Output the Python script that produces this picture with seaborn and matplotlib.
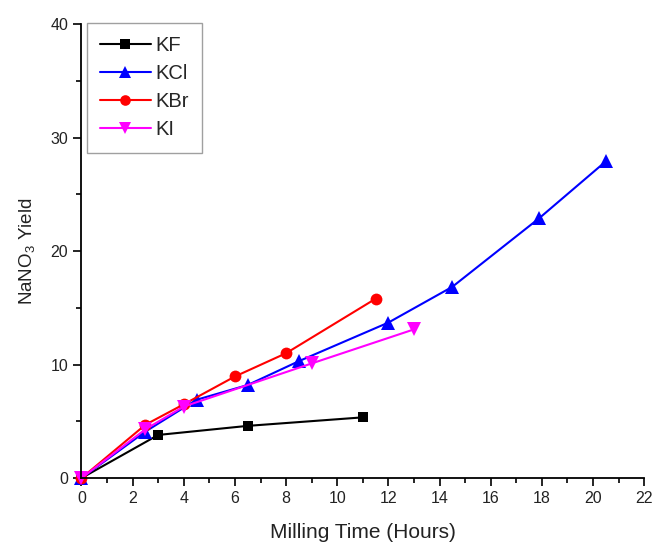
import pandas as pd
import matplotlib
matplotlib.use("Agg")
import matplotlib.pyplot as plt
from matplotlib.ticker import MultipleLocator
import seaborn as sns

# -----------------------------
# Data
# -----------------------------
kf_time = [0, 3, 6.5, 11]
kf_yield = [0, 3.8, 4.6, 5.35]

kcl_time = [0, 2.5, 4.5, 6.5, 8.5, 12, 14.5, 17.9, 20.5]
kcl_yield = [0, 4.1, 6.9, 8.2, 10.3, 13.7, 16.85, 22.9, 27.9]

kbr_time = [0, 2.5, 4, 6, 8, 11.5]
kbr_yield = [0, 4.7, 6.5, 8.95, 11.0, 15.8]

ki_time = [0, 2.5, 4, 9, 13]
ki_yield = [0, 4.3, 6.3, 10.1, 13.1]

salts = ["KF", "KCl", "KBr", "KI"]
colors = {"KF": "#000000", "KCl": "#0000ff", "KBr": "#ff0000", "KI": "#ff00ff"}
markers = {"KF": "s", "KCl": "^", "KBr": "o", "KI": "v"}
marker_sizes = {"KF": 7.5, "KCl": 10, "KBr": 8.5, "KI": 10}


def build_frame():
    parts = []
    for name, t, y in [("KF", kf_time, kf_yield), ("KCl", kcl_time, kcl_yield),
                       ("KBr", kbr_time, kbr_yield), ("KI", ki_time, ki_yield)]:
        parts.append(pd.DataFrame({"time": t, "yield": y, "salt": name}))
    return pd.concat(parts, ignore_index=True)


def main():
    df = build_frame()

    sns.set_style("ticks")
    plt.rcParams["font.family"] = ["Liberation Sans", "DejaVu Sans"]
    plt.rcParams["mathtext.default"] = "regular"

    fig = plt.figure(figsize=(6.55, 5.47), dpi=100)
    ax = fig.add_axes([0.1244, 0.126, 0.859, 0.830])

    # one call per salt so each marker can have its own size
    for salt in salts:
        sub = df[df["salt"] == salt]
        sns.lineplot(data=sub, x="time", y="yield", color=colors[salt],
                     marker=markers[salt], markersize=marker_sizes[salt],
                     markeredgewidth=0, linewidth=1.5, sort=False,
                     estimator=None, label=salt, ax=ax, clip_on=False)

    ax.set_xlim(0, 22)
    ax.set_ylim(0, 40)
    ax.xaxis.set_major_locator(MultipleLocator(2))
    ax.xaxis.set_minor_locator(MultipleLocator(1))
    ax.yaxis.set_major_locator(MultipleLocator(10))
    ax.yaxis.set_minor_locator(MultipleLocator(5))
    ax.tick_params(which="major", length=6, width=1.2, labelsize=11.5,
                   color="black", labelcolor="#222222", direction="out")
    ax.tick_params(which="minor", length=3.5, width=1.2, color="black",
                   direction="out")
    sns.despine(ax=ax)
    for side in ["left", "bottom"]:
        ax.spines[side].set_linewidth(1.3)
        ax.spines[side].set_color("black")

    ax.set_xlabel("Milling Time (Hours)", fontsize=15, color="#222222", labelpad=12)
    ax.set_ylabel("NaNO$_3$ Yield", fontsize=13.5, color="#222222", labelpad=10)

    handles, labels = ax.get_legend_handles_labels()
    leg = ax.legend(handles, labels, loc="upper left",
                    bbox_to_anchor=(0.01, 1.002), fontsize=14.5,
                    handlelength=2.5, handletextpad=0.25, markerscale=0.9,
                    borderpad=0.65, labelspacing=0.45, borderaxespad=0.0,
                    fancybox=False, frameon=True, edgecolor="#888888")
    leg.get_frame().set_linewidth(1.0)

    fig.savefig("out.png", dpi=100)


if __name__ == "__main__":
    main()
